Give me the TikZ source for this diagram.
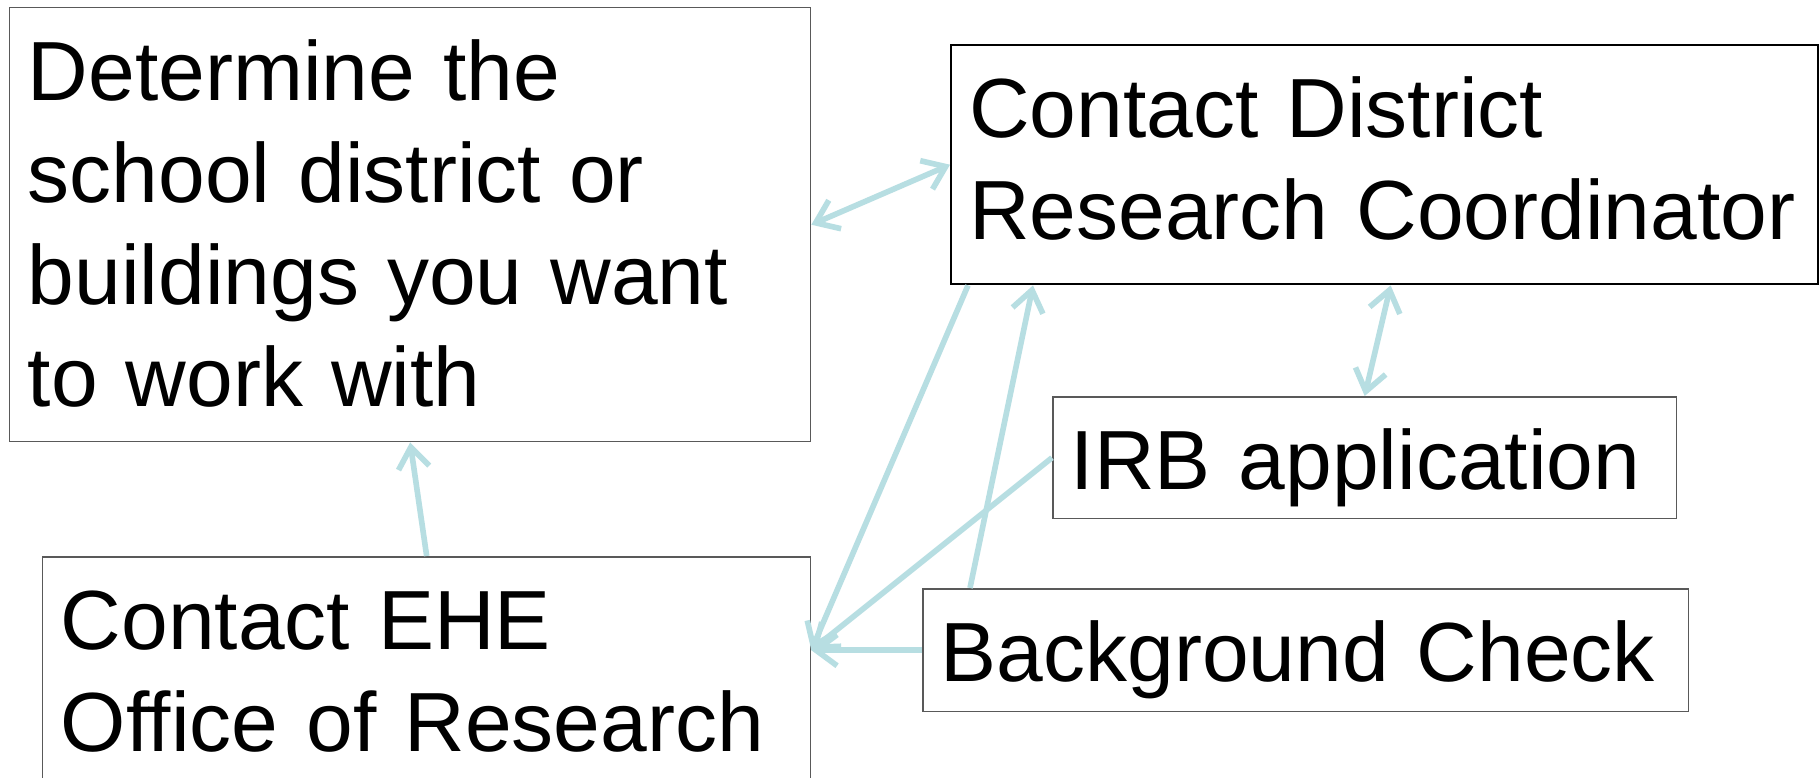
\documentclass[tikz,border=0pt]{standalone}
\usepackage{fontspec}
\setmainfont{Liberation Sans}
\usetikzlibrary{arrows.meta,calc}
\definecolor{linkblue}{RGB}{183,222,226}
\tikzset{
  textbox/.style = {align=left, anchor=north west, inner xsep=0.36cm, inner ysep=0pt, text height=1.85cm, fill=white, font={\fontsize{47.8pt}{58.2pt}\selectfont}},
  box_g/.style = {textbox, draw=black!65, line width=0.85pt},
  box_k/.style = {textbox, draw=black, line width=1.4pt},
  link/.style = {draw=linkblue, line width=3.2pt, >={Straight Barb[length=0.42cm,width=0.62cm]}}
}
\begin{document}
\begin{tikzpicture}[x=0.02cm,y=-0.02cm]
	\path[use as bounding box, fill=white] (0,0) rectangle (1820,778);
	\node [box_g, text width=15.3cm, text depth=6.83cm] (target) at (9,7) {Determine the\\school district or\\buildings you want\\to work with};
	\node [box_k, text width=16.62cm, text depth=2.93cm] (district) at (950,44) {Contact District\\Research Coordinator};
	\node [box_g, text width=11.76cm, text depth=0.59cm] (irb) at (1052,396) {IRB application};
	\node [box_g, text width=14.6cm, text depth=0.61cm] (check) at (922,588) {Background Check};
	\node [box_g, text width=14.64cm, text depth=2.67cm] (office) at (42,556) {Contact EHE\\Office of Research};
	\coordinate (hub) at (check.west -| office.east);
	\draw [link, <->] (target.east) -- (district.west);
	\draw [link, ->] (office.north) -- (target.south);
	\draw [link, ->] ($(district.south west)+(18,0)$) -- (hub);
	\draw [link, ->] (irb.west) -- (hub);
	\draw [link, ->] (check.west) -- (hub);
	\draw [link, ->] ($(check.north west)+(48,0)$) -- ($(district.south west)+(83,0)$);
	\draw [link, <->] (irb.north) -- ($(district.south)+(6,0)$);
\end{tikzpicture}
\end{document}
